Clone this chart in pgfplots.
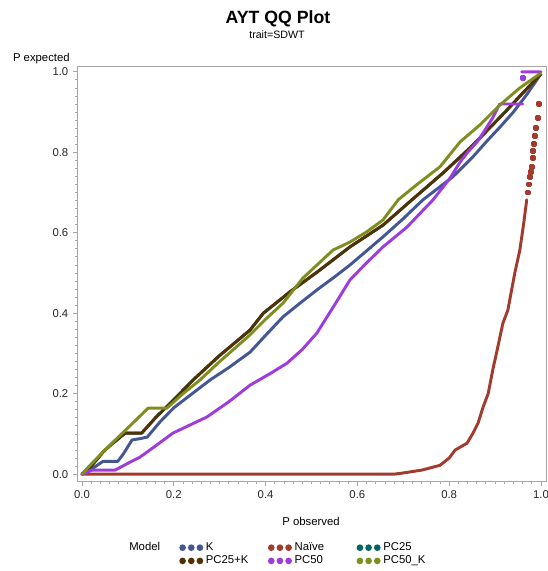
\documentclass[border=0pt]{standalone}
\usepackage{fontspec}
\setmainfont{Liberation Sans}
\usepackage{pgfplots}
\pgfplotsset{compat=1.18}
\definecolor{cK}{HTML}{445694}
\definecolor{cNaive}{HTML}{A23A2E}
\definecolor{cPCa}{HTML}{01665E}
\definecolor{cPCaK}{HTML}{543005}
\definecolor{cPCb}{HTML}{9D3CDB}
\definecolor{cPCbK}{HTML}{7F8E1F}
\begin{document}
\begin{tikzpicture}
\begin{axis}[
  scale only axis, width=351pt, height=310.5pt,
  xmin=-0.0087, xmax=1.011, ymin=-0.017, ymax=1.012,
  axis line style={draw=gray!70, line width=0.75pt},
  tick pos=left, tick align=outside,
  major tick length=3.75pt, minor tick length=2.25pt,
  every tick/.style={gray!70, line width=0.6pt},
  xtick={0,0.2,0.4,0.6,0.8,1}, ytick={0,0.2,0.4,0.6,0.8,1},
  minor tick num=9,
  tick label style={font=\fontsize{8.5}{10}\selectfont, text=black!85,
    /pgf/number format/.cd, fixed, fixed zerofill, precision=1, assume math mode=true},
  unbounded coords=jump,
  every axis plot/.append style={line width=2.2pt, line join=round, line cap=round},
  legend columns=3,
  legend style={at={(0.2158,-0.142)}, anchor=north west, draw=none, fill=none,
    font=\fontsize{8.5}{10}\selectfont, inner sep=0pt, row sep=-1.5pt},
  legend cell align=left,
  legend image code/.code={%
    \path[fill, draw=none] (2.4pt,0) circle[radius=2.5pt];
    \path[fill, draw=none] (8.9pt,0) circle[radius=2.5pt];
    \path[fill, draw=none] (15.4pt,0) circle[radius=2.5pt];},
]
% K
\addplot[color=cK] coordinates {
(0,0) (0.02,0.012) (0.046,0.032) (0.078,0.032) (0.09,0.05) (0.109,0.085) (0.125,0.088) (0.142,0.092)
(0.17,0.13) (0.2,0.165) (0.24,0.2) (0.279,0.234) (0.32,0.265) (0.366,0.303) (0.4,0.345) (0.438,0.391)
(0.475,0.425) (0.512,0.458) (0.55,0.49) (0.584,0.52) (0.62,0.555) (0.656,0.59) (0.7,0.635) (0.743,0.682)
(0.775,0.71) (0.808,0.739) (0.852,0.789) (0.88,0.825) (0.911,0.863) (0.94,0.9) (0.97,0.945) (1.0,0.995)};
\addlegendentry{\makebox[44.5pt][l]{K}}
% Naive
\addplot[color=cNaive] coordinates {
(0,0) (0.68,0) (0.7,0.003) (0.74,0.01) (0.78,0.022) (0.8,0.04) (0.813,0.06) (0.839,0.077) (0.852,0.102)
(0.863,0.127) (0.874,0.167) (0.885,0.2) (0.895,0.259) (0.906,0.316) (0.917,0.375) (0.928,0.408)
(0.932,0.433) (0.943,0.5) (0.954,0.557) (0.962,0.62) (0.969,0.682)};
\addlegendentry{\makebox[44.5pt][l]{Naïve}}
% PC25 (hidden under PC25+K)
\addplot[color=cPCa] coordinates {
(0,0) (0.02,0.02) (0.046,0.055) (0.06,0.07) (0.094,0.102) (0.13,0.102) (0.16,0.14) (0.2,0.185)
(0.242,0.234) (0.3,0.295) (0.366,0.358) (0.395,0.4) (0.453,0.453) (0.512,0.502) (0.584,0.565)
(0.656,0.619) (0.719,0.682) (0.787,0.749) (0.852,0.818) (0.926,0.905) (0.961,0.948) (1.0,0.995)};
\addlegendentry{\makebox[44.5pt][l]{PC25}}
% PC25+K
\addplot[color=cPCaK] coordinates {
(0,0) (0.02,0.02) (0.046,0.055) (0.06,0.07) (0.094,0.102) (0.13,0.102) (0.16,0.14) (0.2,0.185)
(0.242,0.234) (0.3,0.295) (0.366,0.358) (0.395,0.4) (0.453,0.453) (0.512,0.502) (0.584,0.565)
(0.656,0.619) (0.719,0.682) (0.787,0.749) (0.852,0.818) (0.926,0.905) (0.961,0.948) (1.0,0.995)};
\addlegendentry{\makebox[44.5pt][l]{PC25+K}}
% PC50
\addplot[color=cPCb] coordinates {
(0,0) (0.022,0.01) (0.072,0.01) (0.1,0.027) (0.126,0.042) (0.16,0.07) (0.198,0.102) (0.235,0.122)
(0.272,0.142) (0.32,0.18) (0.366,0.221) (0.41,0.25) (0.447,0.276) (0.48,0.31) (0.512,0.351) (0.55,0.42)
(0.584,0.483) (0.62,0.525) (0.656,0.565) (0.708,0.614) (0.765,0.682) (0.802,0.736) (0.824,0.776)
(0.841,0.801) (0.861,0.826) (0.874,0.848) (0.895,0.886) (0.91,0.92) (0.96,0.92) (0.96,nan)
(0.958,1.0) (1.0,1.0)};
\addlegendentry{\makebox[44.5pt][l]{PC50}}
% PC50_K
\addplot[color=cPCbK] coordinates {
(0,0) (0.02,0.025) (0.05,0.06) (0.1,0.115) (0.144,0.164) (0.185,0.164) (0.22,0.2) (0.257,0.234)
(0.3,0.28) (0.366,0.346) (0.4,0.385) (0.438,0.425) (0.481,0.487) (0.547,0.557) (0.584,0.577)
(0.62,0.602) (0.656,0.632) (0.689,0.682) (0.73,0.72) (0.78,0.764) (0.824,0.826) (0.867,0.868)
(0.911,0.918) (0.954,0.96) (1.0,0.997)};
\addlegendentry{\makebox[44.5pt][l]{PC50\_K}}
% Naive sparse upper points
\addplot[color=cNaive, only marks, mark=square*, mark size=1.1pt, forget plot] coordinates {
(0.972,0.70) (0.974,0.72) (0.976,0.739) (0.978,0.752) (0.98,0.764) (0.982,0.785) (0.983,0.803)
(0.985,0.821) (0.987,0.841) (0.989,0.861) (0.993,0.886) (0.996,0.92)};
\addplot[color=cPCb, only marks, mark=square*, mark size=1.1pt, forget plot] coordinates {(0.961,0.985)};
\end{axis}
\node[anchor=base, font=\bfseries\fontsize{13.3}{15}\selectfont] at ([shift={(150pt,343.3pt)}]current axis.south west) {AYT QQ Plot};
\node[anchor=base, font=\fontsize{8}{10}\selectfont] at ([shift={(149.25pt,332pt)}]current axis.south west) {trait=SDWT};
\node[anchor=base east, inner sep=0pt, font=\fontsize{8.5}{10}\selectfont] at ([shift={(-6pt,314.25pt)}]current axis.south west) {P expected};
\node[anchor=base, inner sep=0pt, font=\fontsize{8.5}{10}\selectfont] at ([shift={(174.75pt,-33.75pt)}]current axis.south west) {P observed};
\node[anchor=base west, inner sep=0pt, font=\fontsize{8.5}{10}\selectfont] at ([shift={(38.25pt,-51.75pt)}]current axis.south west) {Model};
\pgfresetboundingbox
\useasboundingbox ([shift={(-58.5pt,-67.5pt)}]current axis.south west) rectangle ([shift={(352.5pt,360.75pt)}]current axis.south west);
\end{tikzpicture}
\end{document}
